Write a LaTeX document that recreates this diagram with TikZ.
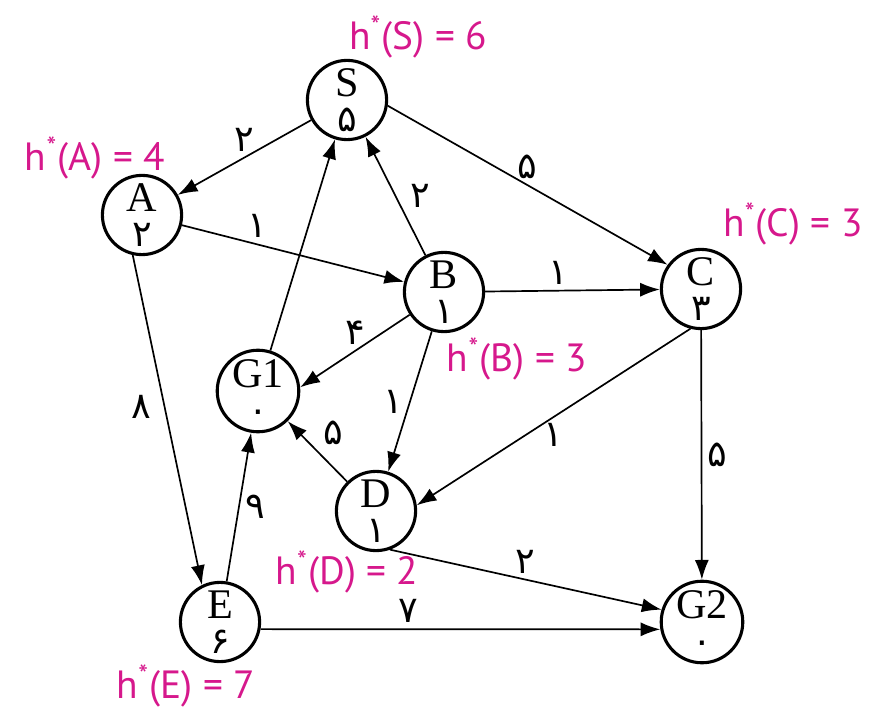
\documentclass[tikz,border=0pt]{standalone}
\usepackage{fontspec}
\setmainfont{Liberation Serif}
\newfontfamily\fadigits{DejaVu Sans}
\newfontfamily\hfont{PT Sans}
\usetikzlibrary{arrows.meta}
\definecolor{hmagenta}{RGB}{214,24,140}

\begin{document}
\begin{tikzpicture}[x=0.0125cm, y=-0.0125cm, >={Latex[length=7pt,width=5pt]},
  state/.style={draw, circle, line width=1.1pt, minimum size=0.99cm, inner sep=0pt,
    align=center, font=\fontsize{15}{12.5}\selectfont},
  cost/.style={font=\fadigits\fontsize{13}{13}\selectfont, inner sep=2pt},
  hval/.style={text=hmagenta, font=\hfont\fontsize{14}{16}\selectfont},
  arc/.style={->, line width=0.6pt}]
  \path[use as bounding box] (0,0) rectangle (886,721);

  % states
  \node[state] (S) at (347,100) {S\\{\fadigits\fontsize{13}{13}\selectfont ۵}};
  \node[state] (A) at (142,215) {A\\{\fadigits\fontsize{13}{13}\selectfont ۲}};
  \node[state] (B) at (444,292) {B\\{\fadigits\fontsize{13}{13}\selectfont ۱}};
  \node[state] (C) at (701,289) {C\\{\fadigits\fontsize{13}{13}\selectfont ۳}};
  \node[state] (G1) at (258,391) {G1\\{\fadigits\fontsize{13}{13}\selectfont ۰}};
  \node[state] (D) at (376,511) {D\\{\fadigits\fontsize{13}{13}\selectfont ۱}};
  \node[state] (E) at (220,622) {E\\{\fadigits\fontsize{13}{13}\selectfont ۶}};
  \node[state] (G2) at (702,622) {G2\\{\fadigits\fontsize{13}{13}\selectfont ۰}};

  % heuristic values
  \node[hval] (hS) at (418,37) {h\textsuperscript{*}(S) = 6};
  \node[hval] (hA) at (95,158) {h\textsuperscript{*}(A) = 4};
  \node[hval] (hC) at (793,224) {h\textsuperscript{*}(C) = 3};
  \node[hval] (hB) at (517,359) {h\textsuperscript{*}(B) = 3};
  \node[hval] (hD) at (347,572) {h\textsuperscript{*}(D) = 2};
  \node[hval] (hE) at (186,686) {h\textsuperscript{*}(E) = 7};

  % edges
  \draw[arc] (S) -- (A) node[cost, midway, above] {۲};
  \draw[arc] (S.-8) -- (C.144) node[cost, midway, above] {۵};
  \draw[arc] (A) -- (B) node[cost, pos=0.34, above] {۱};
  \draw[arc] (A.257) -- (E.116) node[cost, pos=0.46, left=2.5pt] {۸};
  \draw[arc] (B) -- (S) node[cost, midway, right=3pt] {۲};
  \draw[arc] (B) -- (C) node[cost, pos=0.42, above] {۱};
  \draw[arc] (B) -- (G1.5) node[cost, midway, above] {۴};
  \draw[arc] (B) -- (D) node[cost, midway, left] {۱};
  \draw[arc] (G1) -- (S);
  \draw[arc] (C.255) -- (D.8) node[cost, midway, below] {۱};
  \draw[arc] (C) -- (G2) node[cost, midway, right] {۵};
  \draw[arc] (D) -- (G1) node[cost, midway, above right=0pt] {۵};
  \draw[arc] (D.290) -- (G2.163) node[cost, midway, above] {۲};
  \draw[arc] (E) -- (G1) node[cost, midway, right] {۹};
  \draw[arc] (E.350) -- (G2.190) node[cost, pos=0.37, above] {۷};
\end{tikzpicture}
\end{document}
